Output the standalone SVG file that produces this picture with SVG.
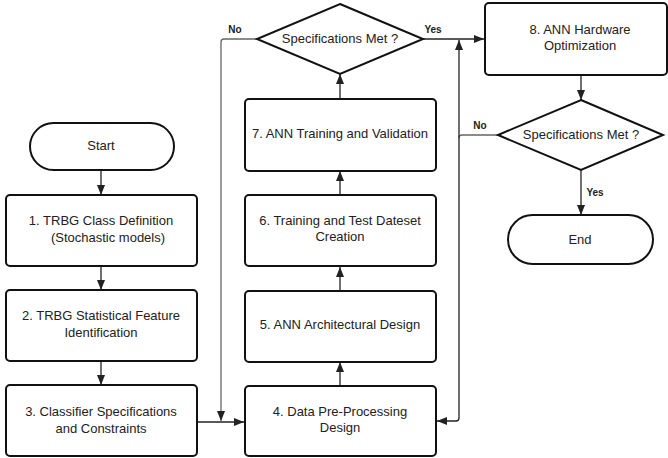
<svg xmlns="http://www.w3.org/2000/svg" width="668" height="458" viewBox="0 0 668 458">
  <defs>
    <marker id="arrow" markerUnits="userSpaceOnUse" markerWidth="10" markerHeight="10" viewBox="0 0 10 10" refX="10" refY="5" orient="auto">
      <path d="M0,1 L10,5 L0,9 Z" fill="#222"/>
    </marker>
    <style>
      .box { fill: #fff; stroke: #111; stroke-width: 2; }
      .lbl { font-family: "Liberation Sans", Arial, sans-serif; font-size: 13px; fill: #222; text-anchor: middle; }
      .tag { font-family: "Liberation Sans", Arial, sans-serif; font-size: 10px; font-weight: bold; fill: #222; text-anchor: middle; }
      .conn { fill: none; stroke: #222; stroke-width: 1.3; }
      .conn-grey { fill: none; stroke: #666; stroke-width: 1.3; }
    </style>
  </defs>
  <rect width="668" height="458" fill="#fff"/>

  <!-- connectors -->
  <g id="connectors">
    <!-- left column -->
    <path class="conn" d="M101,170 V195" marker-end="url(#arrow)"/>
    <path class="conn" d="M101,266 V290" marker-end="url(#arrow)"/>
    <path class="conn" d="M101,361 V385" marker-end="url(#arrow)"/>
    <path class="conn" d="M197,422 H244" marker-end="url(#arrow)"/>
    <!-- middle column, upward -->
    <path class="conn" d="M340,386 V362" marker-end="url(#arrow)"/>
    <path class="conn" d="M340,291 V267" marker-end="url(#arrow)"/>
    <path class="conn" d="M340,195 V171" marker-end="url(#arrow)"/>
    <path class="conn" d="M340,99 V74" marker-end="url(#arrow)"/>
    <!-- first decision: No back to step 4 -->
    <path class="conn-grey" d="M257,39 H224 Q221,39 221,42 V421" marker-end="url(#arrow)"/>
    <!-- first decision: Yes to step 8 -->
    <path class="conn" d="M423,39 H484" marker-end="url(#arrow)"/>
    <!-- step 8 to second decision -->
    <path class="conn" d="M581,75 V100" marker-end="url(#arrow)"/>
    <!-- second decision: Yes to End -->
    <path class="conn" d="M581,170 V215" marker-end="url(#arrow)"/>
    <!-- second decision: No, rejoining step 8 and step 4 -->
    <path class="conn-grey" d="M498,135 H462 Q459,135 459,138"/>
    <path class="conn" d="M459,136 V40" marker-end="url(#arrow)"/>
    <path class="conn" d="M459,136 V418 Q459,421 456,421 H437" marker-end="url(#arrow)"/>
  </g>

  <!-- connector labels -->
  <g id="labels">
    <text class="tag" x="235" y="33">No</text>
    <text class="tag" x="433" y="33">Yes</text>
    <text class="tag" x="480" y="129">No</text>
    <text class="tag" x="595" y="196">Yes</text>
  </g>

  <g id="start">
    <rect class="box" x="30" y="123" width="144" height="47" rx="23.5"/>
    <text class="lbl" x="101" y="150">Start</text>
  </g>

  <g id="step1">
    <rect class="box" x="6" y="195" width="191" height="71" rx="4"/>
    <text class="lbl" x="101" y="225">1. TRBG Class Definition</text>
    <text class="lbl" x="108" y="242">(Stochastic models)</text>
  </g>

  <g id="step2">
    <rect class="box" x="6" y="290" width="191" height="71" rx="4"/>
    <text class="lbl" x="101" y="320">2. TRBG Statistical Feature</text>
    <text class="lbl" x="101" y="337">Identification</text>
  </g>

  <g id="step3">
    <rect class="box" x="6" y="385" width="191" height="71" rx="4"/>
    <text class="lbl" x="101" y="416">3. Classifier Specifications</text>
    <text class="lbl" x="101" y="433">and Constraints</text>
  </g>

  <g id="step4">
    <rect class="box" x="245" y="386" width="191" height="70" rx="4"/>
    <text class="lbl" x="340" y="416">4. Data Pre-Processing</text>
    <text class="lbl" x="340" y="432">Design</text>
  </g>

  <g id="step5">
    <rect class="box" x="245" y="291" width="191" height="71" rx="4"/>
    <text class="lbl" x="340" y="329">5. ANN Architectural Design</text>
  </g>

  <g id="step6">
    <rect class="box" x="245" y="195" width="191" height="71" rx="4"/>
    <text class="lbl" x="340" y="225">6. Training and Test Dateset</text>
    <text class="lbl" x="340" y="241">Creation</text>
  </g>

  <g id="step7">
    <rect class="box" x="245" y="99" width="191" height="72" rx="4"/>
    <text class="lbl" x="340" y="138">7. ANN Training and Validation</text>
  </g>

  <g id="decision1">
    <polygon class="box" points="340,4 423,39 340,74 257,39"/>
    <text class="lbl" x="340" y="43">Specifications Met ?</text>
  </g>

  <g id="step8">
    <rect class="box" x="485" y="3" width="182" height="72" rx="4"/>
    <text class="lbl" x="580" y="34">8. ANN Hardware</text>
    <text class="lbl" x="580" y="50">Optimization</text>
  </g>

  <g id="decision2">
    <polygon class="box" points="581,100 663,135 581,170 498,135"/>
    <text class="lbl" x="581" y="139">Specifications Met ?</text>
  </g>

  <g id="end">
    <rect class="box" x="508" y="215" width="145" height="49" rx="24.5"/>
    <text class="lbl" x="580" y="244">End</text>
  </g>
</svg>
